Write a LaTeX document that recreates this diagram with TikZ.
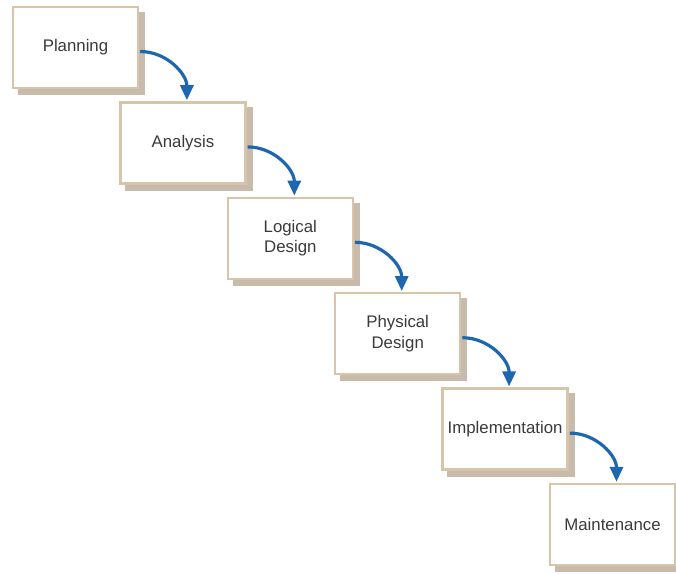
\documentclass[tikz,border=0pt]{standalone}
\usepackage{fontspec}
\setmainfont{Liberation Sans}
\usetikzlibrary{arrows.meta,calc}
\definecolor{boxborder}{HTML}{D8C5A9}
\definecolor{boxshadow}{HTML}{C8BBAB}
\definecolor{txt}{HTML}{3A3A3A}
\definecolor{arrowblue}{HTML}{1F66B0}
\tikzset{
  stage/.style={draw=boxborder, line width=2.4pt, fill=white, minimum width=125pt, minimum height=81pt,
    inner sep=0pt, text=txt, align=center, font=\fontsize{16.8pt}{20.5pt}\selectfont,
    preaction={fill=boxshadow, draw=boxshadow, transform canvas={shift={(6pt,-6pt)}}}},
  flow/.style={draw=arrowblue, line width=3.2pt, -{Triangle[width=13pt,length=15pt]}}
}
\begin{document}
\begin{tikzpicture}[x=1pt,y=-1pt]
\useasboundingbox (0,0) rectangle (676,573);
\node[stage] (p1) at (75.5,47.5) {Planning};
\node[stage] (p2) at (182.9,142.9) {Analysis};
\node[stage] (p3) at (290.3,238.3) {Logical\\Design};
\node[stage] (p4) at (397.7,333.7) {Physical\\Design};
\node[stage] (p5) at (505.1,429.1) {Implementation};
\node[stage] (p6) at (612.5,524.5) {Maintenance};
\foreach \a/\b in {p1/p2,p2/p3,p3/p4,p4/p5,p5/p6}{
  \draw[flow] ($(\a.east)+(1,4)$) to[out=0,in=90] ($(\b.north)+(4,-1)$);
}
\end{tikzpicture}
\end{document}
